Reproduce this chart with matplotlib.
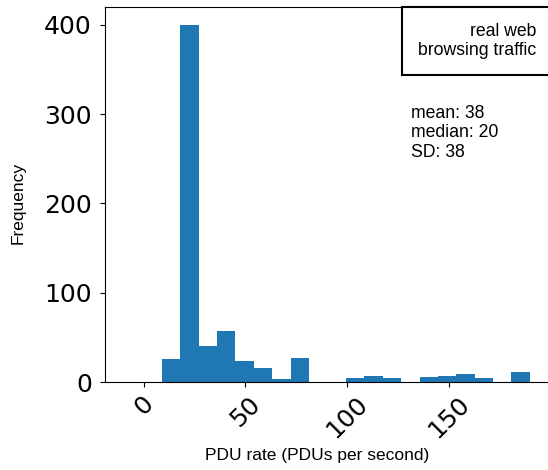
import numpy as np
import matplotlib.pyplot as plt


# histogram of PDU rates (bin edges and counts per bin)
bin_edges = [-9.0, 0.0, 9.0, 18.1, 27.1, 36.1, 45.1, 54.2, 63.2, 72.2, 81.2, 90.3,
             99.3, 108.3, 117.3, 126.4, 135.4, 144.4, 153.4, 162.5, 171.5, 180.5, 189.5]
counts = [0, 0, 26, 400, 40, 57, 24, 16, 3, 27, 0, 0,
          5, 7, 5, 0, 6, 7, 9, 4, 0, 11]

x_ticks = [0, 50, 100, 150]
y_ticks = [0, 100, 200, 300, 400]

stats_text = 'mean: 38\nmedian: 20\nSD: 38'
box_text = 'real web\nbrowsing traffic'

label_font = 'Liberation Sans'


fig = plt.figure(figsize=(5.48, 4.70), dpi=100)
ax = fig.add_axes([105 / 548, 88 / 470, 445 / 548, 375 / 470])

edges = np.array(bin_edges)
centers = (edges[:-1] + edges[1:]) / 2
ax.hist(centers, bins=edges, weights=counts, color='#1f77b4')

ax.set_xticks(x_ticks)
ax.set_yticks(y_ticks)
ax.tick_params(axis='both', labelsize=18)
ax.tick_params(axis='y', pad=6)
plt.setp(ax.get_xticklabels(), rotation=45)

ax.spines['right'].set_visible(False)

ax.set_xlabel('PDU rate (PDUs per second)', fontsize=12.5, family=label_font)
ax.set_ylabel('Frequency', fontsize=12.5, family=label_font)
ax.xaxis.set_label_coords(0.4775, -0.175)
ax.yaxis.set_label_coords(-0.178, 0.478)

ax.text(0.9685, 0.958, box_text, transform=ax.transAxes, ha='right', va='top',
        fontsize=12.7, family=label_font, multialignment='right',
        bbox=dict(boxstyle='square,pad=0.9', fc='white', ec='black', lw=1.5))

ax.text(0.688, 0.74, stats_text, transform=ax.transAxes, ha='left', va='top',
        fontsize=12.7, family=label_font)

fig.savefig('out.png', dpi=100)
